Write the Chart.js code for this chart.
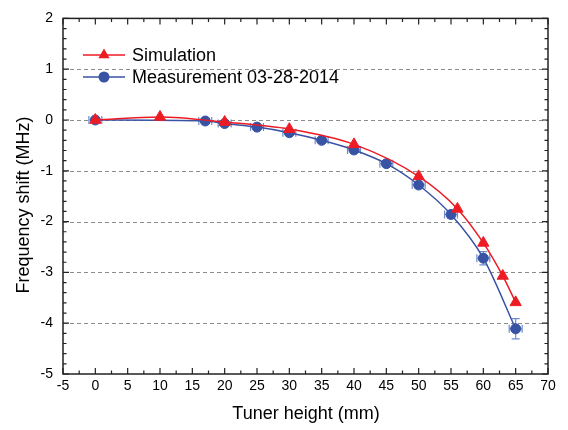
<!DOCTYPE html>
<html>
<head>
<meta charset="utf-8">
<script src="https://cdn.jsdelivr.net/npm/chart.js@4"></script>
<style>
  html, body { margin: 0; padding: 0; background: #fff; }
  #wrap { width: 568px; height: 430px; }
</style>
</head>
<body>
<div id="wrap"><canvas id="myChart" width="568" height="430"></canvas></div>
<script>
// simulation (red triangles)
var simX = [0, 10, 20, 30, 40, 50, 56, 60, 63, 65];
var simY = [0, 0.06, -0.04, -0.18, -0.48, -1.11, -1.75, -2.42, -3.07, -3.59];
// measurement 03-28-2014 (blue circles) with error bars
var measX = [0, 17, 20, 25, 30, 35, 40, 45, 50, 55, 60, 65];
var measY = [0, -0.02, -0.07, -0.14, -0.25, -0.40, -0.59, -0.86, -1.28, -1.86, -2.72, -4.11];
var measXErr = [1, 1, 1, 1, 1, 1, 1, 1, 1, 1, 1, 1];
var measYErr = [0.03, 0.03, 0.03, 0.03, 0.03, 0.03, 0.04, 0.05, 0.06, 0.07, 0.13, 0.2];

var legendLabels = ['Simulation', 'Measurement 03-28-2014'];
var xTitle = 'Tuner height (mm)';
var yTitle = 'Frequency shift (MHz)';

var red = 'rgb(237, 28, 36)';
var blue = 'rgb(56, 83, 164)';
var errBlue = 'rgb(110, 140, 205)';
var font = '"Liberation Sans", Arial, sans-serif';

function pts(xs, ys) {
    return xs.map(function (x, i) { return {x: x, y: ys[i]}; });
}

//draws grid, error bars, frame with inward ticks, legend and titles
var decor = {
    id: 'decor',
    beforeDatasetsDraw: function (chart) {
        var c = chart.ctx, a = chart.chartArea, xs = chart.scales.x, ys = chart.scales.y;
        c.save();
        // dashed grid
        c.strokeStyle = '#8c8c8c';
        c.lineWidth = 1;
        c.setLineDash([4, 3]);
        for (var v = -4; v <= 1; v++) {
            var py = Math.round(ys.getPixelForValue(v)) + 0.5;
            c.beginPath(); c.moveTo(a.left, py); c.lineTo(a.right, py); c.stroke();
        }
        c.setLineDash([]);
        // error bars
        c.strokeStyle = errBlue;
        c.lineWidth = 1.2;
        for (var i = 0; i < measX.length; i++) {
            var px = xs.getPixelForValue(measX[i]), py2 = ys.getPixelForValue(measY[i]);
            var x1 = xs.getPixelForValue(measX[i] - measXErr[i]), x2 = xs.getPixelForValue(measX[i] + measXErr[i]);
            var y1 = ys.getPixelForValue(measY[i] - measYErr[i]), y2 = ys.getPixelForValue(measY[i] + measYErr[i]);
            c.beginPath();
            c.moveTo(x1, py2); c.lineTo(x2, py2);
            c.moveTo(x1, py2 - 4); c.lineTo(x1, py2 + 4);
            c.moveTo(x2, py2 - 4); c.lineTo(x2, py2 + 4);
            c.moveTo(px, y1); c.lineTo(px, y2);
            c.moveTo(px - 4, y1); c.lineTo(px + 4, y1);
            c.moveTo(px - 4, y2); c.lineTo(px + 4, y2);
            c.stroke();
        }
        c.restore();
    },
    afterDraw: function (chart) {
        var c = chart.ctx, a = chart.chartArea, xs = chart.scales.x, ys = chart.scales.y;
        c.save();
        c.strokeStyle = '#222';
        c.lineWidth = 1.5;
        c.strokeRect(a.left, a.top, a.right - a.left, a.bottom - a.top);
        c.lineWidth = 1.2;
        c.beginPath();
        // x ticks every 2.5
        for (var k = 0; k <= 30; k++) {
            var v = -5 + k * 2.5, px = xs.getPixelForValue(v), len = (k % 2 === 0) ? 6 : 3.5;
            c.moveTo(px, a.bottom); c.lineTo(px, a.bottom - len);
            c.moveTo(px, a.top); c.lineTo(px, a.top + len);
        }
        // y ticks every 0.2
        for (var j = 0; j <= 35; j++) {
            var yv = -5 + j * 0.2, py = ys.getPixelForValue(yv), ln = (j % 5 === 0) ? 6 : 3.5;
            c.moveTo(a.left, py); c.lineTo(a.left + ln, py);
            c.moveTo(a.right, py); c.lineTo(a.right - ln, py);
        }
        c.stroke();

        // legend
        var rows = [55, 77];
        c.lineWidth = 1.5;
        c.font = '18px ' + font;
        c.textBaseline = 'middle';
        c.fillStyle = '#000';
        for (var r = 0; r < 2; r++) {
            var col = r === 0 ? red : blue, y = rows[r];
            c.strokeStyle = col;
            c.beginPath(); c.moveTo(83, y); c.lineTo(125, y); c.stroke();
            c.fillStyle = col;
            c.beginPath();
            if (r === 0) {
                var rad = 6.5;
                c.moveTo(104, y - rad);
                c.lineTo(104 + rad * 0.866, y + rad * 0.5);
                c.lineTo(104 - rad * 0.866, y + rad * 0.5);
                c.closePath();
            } else {
                c.arc(104, y, 5.5, 0, Math.PI * 2);
            }
            c.fill();
            c.fillStyle = '#000';
            c.textAlign = 'left';
            c.fillText(legendLabels[r], 132, y + 1);
        }

        // axis titles
        c.textAlign = 'center';
        c.fillText(xTitle, 306, 414);
        c.translate(24, 205);
        c.rotate(-Math.PI / 2);
        c.fillText(yTitle, 0, 0);
        c.restore();
    }
};

var ctx = document.getElementById('myChart').getContext('2d');
var chart = new Chart(ctx, {
    type: 'line',
    data: {
        datasets: [{
            label: legendLabels[0],
            data: pts(simX, simY),
            borderColor: red,
            backgroundColor: red,
            borderWidth: 1.5,
            pointStyle: 'triangle',
            pointRadius: 6.5,
            pointBorderWidth: 1,
            cubicInterpolationMode: 'monotone'
        }, {
            label: legendLabels[1],
            data: pts(measX, measY),
            borderColor: blue,
            backgroundColor: blue,
            borderWidth: 1.5,
            pointStyle: 'circle',
            pointRadius: 5,
            pointBorderWidth: 1,
            cubicInterpolationMode: 'monotone'
        }]
    },
    options: {
        responsive: false,
        animation: false,
        layout: {padding: {top: 16, right: 20, left: 0, bottom: 0}},
        plugins: {legend: {display: false}, tooltip: {enabled: false}},
        scales: {
            x: {
                type: 'linear', min: -5, max: 70,
                grid: {display: false, drawTicks: false, tickLength: 0},
                border: {display: false},
                ticks: {stepSize: 5, padding: 4, color: '#000', font: {family: font, size: 14}},
                afterFit: function (s) { s.height = 56; }
            },
            y: {
                type: 'linear', min: -5, max: 2,
                grid: {display: false, drawTicks: false, tickLength: 0},
                border: {display: false},
                ticks: {stepSize: 1, padding: 10, color: '#000', font: {family: font, size: 14}},
                afterFit: function (s) { s.width = 63; }
            }
        }
    },
    plugins: [decor]
});
</script>
</body>
</html>
